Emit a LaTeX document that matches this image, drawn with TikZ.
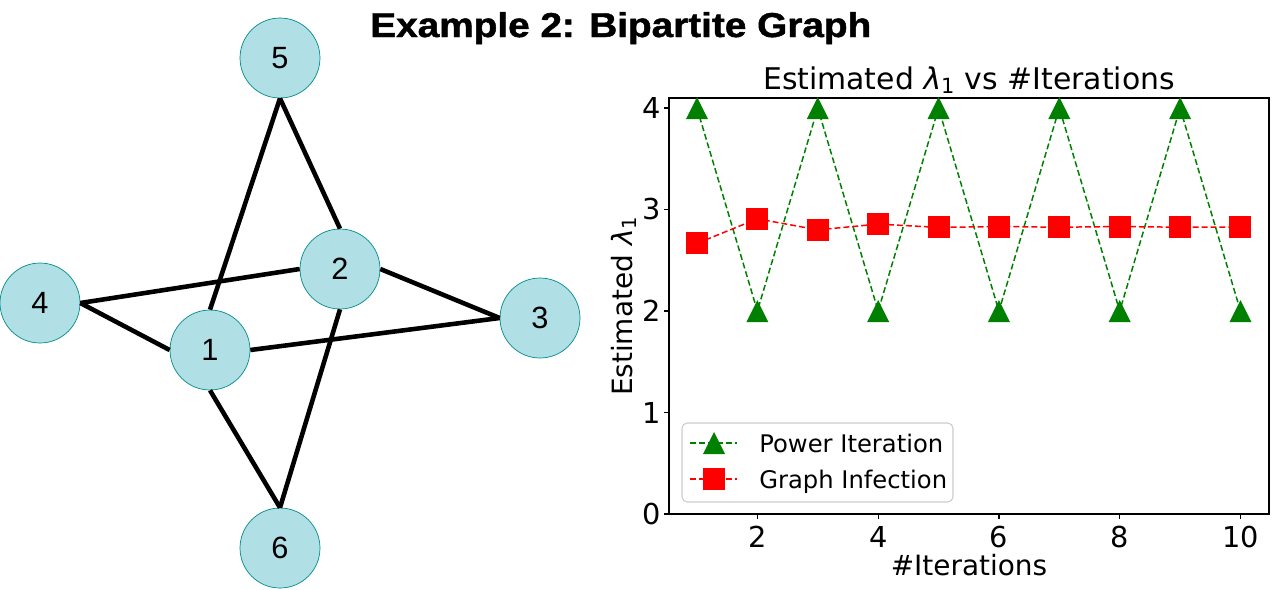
\documentclass[tikz,border=0pt]{standalone}
\usepackage{fontspec}
\usepackage{graphicx}
\setmainfont{Liberation Sans}
\newfontfamily\plotfont{DejaVu Sans}
\newfontfamily\titlefont{Liberation Sans}[BoldFeatures={FakeBold=1.3}]
\definecolor{nodefill}{HTML}{B0E0E6}
\definecolor{nodeedge}{HTML}{008B8B}
\definecolor{pigreen}{HTML}{008000}
\definecolor{gired}{HTML}{FF0000}
\definecolor{legendedge}{HTML}{CCCCCC}
\tikzset{
  vertex/.style={circle, draw=nodeedge, fill=nodefill, minimum size=1.6cm, inner sep=0pt,
    font=\fontsize{17.5}{19}\selectfont},
  edge/.style={line width=2.6pt},
  ticklabel/.style={font=\plotfont\fontsize{16.4}{18}\selectfont, inner sep=0pt},
  axlabel/.style={font=\plotfont\fontsize{15.9}{18}\selectfont, inner sep=0pt},
  legtext/.style={font=\plotfont\fontsize{13.8}{15}\selectfont, inner sep=0pt},
  pwline/.style={pigreen, line width=0.85pt, dash pattern=on 3.4pt off 1.7pt},
  giline/.style={gired, line width=0.85pt, dash pattern=on 3.4pt off 1.7pt},
  triup/.pic={\fill[pigreen] (0cm,0.22cm) -- (-0.22cm,-0.22cm) -- (0.22cm,-0.22cm) -- cycle;},
  sqmark/.pic={\fill[gired] (-0.22cm,-0.22cm) rectangle (0.22cm,0.22cm);}
}
\begin{document}
\begin{tikzpicture}[x=0.02cm, y=-0.02cm]
  \useasboundingbox (0,0) rectangle (1277,589);
  % title
  \node[anchor=base west, inner sep=0pt] (title) at (370,37)
    {\resizebox{10.02cm}{0.5cm}{\titlefont\bfseries Example 2: Bipartite Graph}};
  % graph
  \node[vertex] (n1) at (210,350) {1};
  \node[vertex] (n2) at (340,269) {2};
  \node[vertex] (n3) at (540,318) {3};
  \node[vertex] (n4) at (40,303) {4};
  \node[vertex] (n5) at (280,58) {5};
  \node[vertex] (n6) at (280,548) {6};
  \draw[edge] (n4.east) -- (n2.west);
  \draw[edge] (n4.east) -- (n1.west);
  \draw[edge] (n1.north) -- (n5.south);
  \draw[edge] (n5.south) -- (n2.north);
  \draw[edge] (n2.east) -- (n3.west);
  \draw[edge] (n1.east) -- (n3.west);
  \draw[edge] (n1.south) -- (n6.north);
  \draw[edge] (n2.south) -- (n6.north);
  % axes
  \draw[line width=0.6pt] (669,98) rectangle (1269,514);
  \foreach \y in {0,...,4} {
    \draw[line width=0.6pt] (669,514-101.5*\y) -- ++(-5,0);
    \node[ticklabel, anchor=east] at (661,514-101.5*\y) {\y};
  }
  \foreach \x in {2,4,...,10} {
    \draw[line width=0.6pt] (636.6+60.4*\x,514) -- ++(0,5);
    \node[ticklabel, anchor=north] at (636.6+60.4*\x,526) {\x};
  }
  \node[axlabel, anchor=base] (plottitle) at (969,89)
    {\fontsize{17}{19}\selectfont Estimated {\itshape λ}\textsubscript{1} vs \#Iterations};
  \node[axlabel, anchor=base] (xlab) at (969,575) {\#Iterations};
  \node[axlabel, anchor=base, rotate=90] (ylab) at (632,306) {Estimated {\itshape λ}\textsubscript{1}};
  % data
  \begin{scope}[shift={(636.6,514)}, x=1.208cm, y=2.03cm]
    \foreach \i/\v in {1/4,2/2,3/4,4/2,5/4,6/2,7/4,8/2,9/4,10/2}
      \coordinate (pw\i) at (\i,\v);
    \foreach \i/\v in {1/2.667,2/2.909,3/2.8,4/2.857,5/2.824,6/2.833,7/2.826,8/2.833,9/2.826,10/2.826}
      \coordinate (gi\i) at (\i,\v);
    \draw[pwline] (pw1) \foreach \i in {2,...,10} {-- (pw\i)};
    \foreach \i in {1,...,10} \pic at (pw\i) {triup};
    \draw[giline] (gi1) \foreach \i in {2,...,10} {-- (gi\i)};
    \foreach \i in {1,...,10} \pic at (gi\i) {sqmark};
  \end{scope}
  % legend
  \draw[legendedge, fill=white, rounded corners=3pt, line width=0.6pt] (682,423) rectangle (953,502);
  \coordinate (la) at (690,443);
  \coordinate (lb) at (737,443);
  \coordinate (lc) at (690,479);
  \coordinate (ld) at (737,479);
  \draw[pwline] (la) -- (lb);
  \pic at (714,443) {triup};
  \node[legtext, anchor=base west] (legpw) at (759,452) {Power Iteration};
  \draw[giline] (lc) -- (ld);
  \pic at (714,479) {sqmark};
  \node[legtext, anchor=base west] (leggi) at (759,488) {Graph Infection};
\end{tikzpicture}
\end{document}
